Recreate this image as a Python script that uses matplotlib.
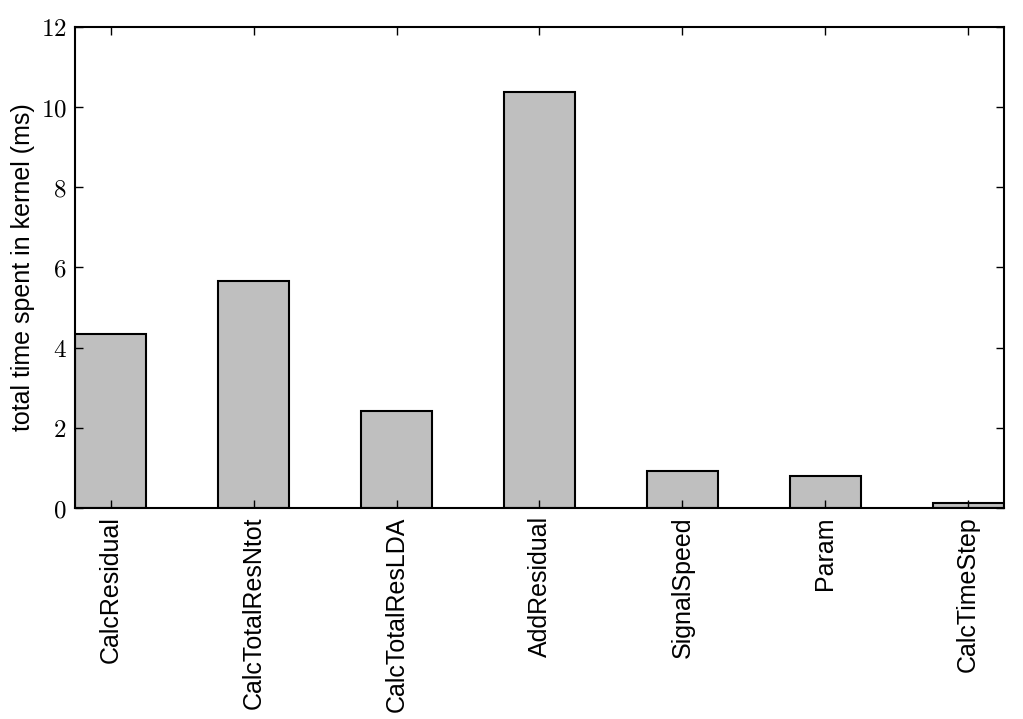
import matplotlib
matplotlib.use("Agg")
import matplotlib.pyplot as plt
from matplotlib.ticker import FuncFormatter

kernels = ["CalcResidual", "CalcTotalResNtot", "CalcTotalResLDA", "AddResidual",
           "SignalSpeed", "Param", "CalcTimeStep"]
times_ms = [4.34, 5.65, 2.42, 10.37, 0.92, 0.80, 0.13]
yticks = [0, 2, 4, 6, 8, 10, 12]

plt.rcParams["mathtext.fontset"] = "cm"
plt.rcParams["font.family"] = ["Liberation Sans", "DejaVu Sans"]

fig = plt.figure(figsize=(10.23, 7.19), dpi=100)
ax = fig.add_axes([0.0733, 0.2935, 0.9081, 0.669])

x = list(range(len(kernels)))
ax.bar(x, times_ms, width=0.5, color="#bfbfbf", edgecolor="black", linewidth=1.5)
ax.set_xlim(-0.25, len(kernels) - 0.75)
ax.set_ylim(0, 12)
ax.set_yticks(yticks)
ax.yaxis.set_major_formatter(FuncFormatter(lambda v, p: "$%d$" % v))
ax.set_xticks(x)
ax.set_xticklabels(kernels, rotation=90, fontsize=18)
ax.tick_params(axis="y", labelsize=18)
ax.tick_params(direction="in", top=True, right=True, length=6, width=1, pad=6)
ax.set_ylabel("total time spent in kernel (ms)", fontsize=18)
for sp in ax.spines.values():
    sp.set_linewidth(1.5)

fig.savefig("out.png", dpi=100)
